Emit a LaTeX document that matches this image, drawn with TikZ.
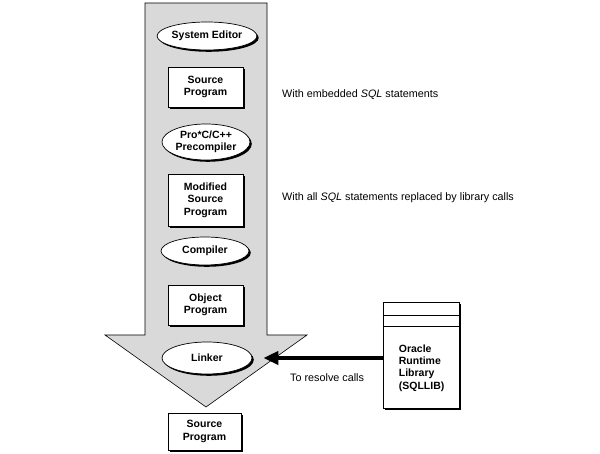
\documentclass[tikz,border=0pt]{standalone}
\usepackage{fontspec}
\setmainfont{Liberation Sans}
\usepackage{xcolor}
\definecolor{flowgray}{RGB}{217, 217, 217}
\usetikzlibrary{positioning,shapes.geometric,arrows.meta,shadows}
\tikzset{
  stagebox/.style={
    draw=black, line width=0.7pt, fill=white, align=center,
    inner sep=0pt, font=\fontsize{10.5}{12.5}\selectfont\bfseries,
    drop shadow={shadow xshift=1.8pt, shadow yshift=-1.8pt, fill=black, opacity=1}
  },
  toolnode/.style={
    stagebox, ellipse, minimum width=90pt, minimum height=28pt
  },
  filenode/.style={
    stagebox, rectangle, minimum width=75pt, minimum height=40pt
  },
  libbox/.style={
    stagebox, rectangle, minimum width=76pt, minimum height=106pt
  },
  flowband/.style={fill=flowgray, draw=black, line width=0.6pt},
  note/.style={anchor=west, inner sep=0pt, font=\fontsize{10.8}{12.5}\selectfont},
  callarrow/.style={-{Triangle[length=15pt,width=13pt]}, line width=4pt},
}

\begin{document}
\begin{tikzpicture}[x=1pt, y=1pt]
  \useasboundingbox (0,0) rectangle (600,454);

  % broad gray arrow carrying the whole build flow
  \draw[flowband] (145,451) -- (267,451) -- (267,119) -- (307,119)
    -- (206,47) -- (105,119) -- (145,119) -- cycle;

  \node[toolnode] (editor) at (207,418) {System Editor};
  \node[filenode] (src) at (205.5,367) {Source\\Program};
  \node[toolnode, minimum width=88pt, minimum height=36pt] (precomp) at (206,312) {Pro*C/C++\\Precompiler};
  \node[filenode, minimum height=52pt] (modsrc) at (205.5,254) {Modified\\Source\\Program};
  \node[toolnode, minimum width=88pt] (compiler) at (205,203) {Compiler};
  \node[filenode] (objprog) at (205.5,149) {Object\\Program};
  \node[toolnode, minimum height=32pt] (linker) at (207,96) {Linker};
  \node[filenode, minimum width=73pt, minimum height=37pt] (outsrc) at (204.5,22.5) {Source\\Program};

  % side notes
  \node[note] (embednote) at (282,359) {With embedded \textit{SQL} statements};
  \node[note] (replnote) at (282,256) {With all \textit{SQL} statements replaced by library calls};

  % runtime library with its two header bands
  \node[libbox] (lib) at (421,99) {};
  \draw[line width=0.7pt] ([yshift=-14pt]lib.north west) -- ([yshift=-14pt]lib.north east);
  \draw[line width=0.7pt] ([yshift=-25pt]lib.north west) -- ([yshift=-25pt]lib.north east);
  \node[anchor=west, inner sep=0pt, align=left, font=\fontsize{10.5}{12.3}\selectfont\bfseries]
    (libname) at ([xshift=16pt,yshift=-13pt]lib.west) {Oracle\\Runtime\\Library\\(SQLLIB)};

  \draw[callarrow] (lib.west |- linker.east) -- ([xshift=11pt]linker.east);
  \node[note] (resolvenote) at (290,76) {To resolve calls};

\end{tikzpicture}
\end{document}
